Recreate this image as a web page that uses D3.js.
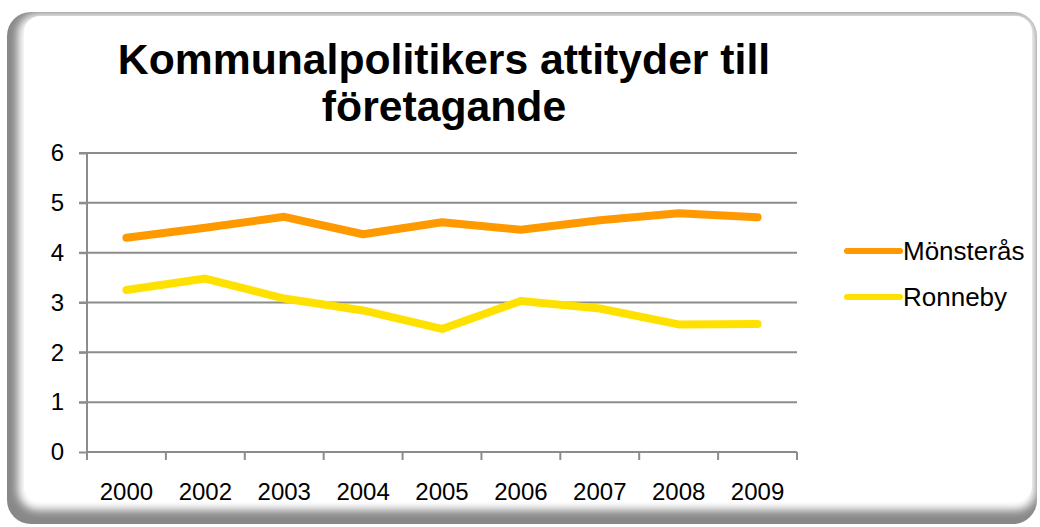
<!DOCTYPE html>
<html>
<head>
  <script src="https://d3js.org/d3.v7.min.js"></script>
  <style>
    body { margin: 0; background: #ffffff; font-family: "Liberation Sans", Arial, sans-serif; }
    .axis text { font-size: 24px; fill: #000; font-family: "Liberation Sans", Arial, sans-serif; }
    .axis path, .axis line { stroke: #8c8c8c; stroke-width: 2px; }
    .grid line { stroke: #8c8c8c; stroke-width: 2px; }
  </style>
</head>
<body>
  <div id="chart"></div>
  <script>
    // Data
    const years = ["2000", "2002", "2003", "2004", "2005", "2006", "2007", "2008", "2009"];
    const monsteras = [4.30, 4.50, 4.72, 4.37, 4.61, 4.46, 4.65, 4.79, 4.71];
    const ronneby = [3.25, 3.48, 3.08, 2.84, 2.47, 3.03, 2.88, 2.56, 2.57];
    const yTicks = [0, 1, 2, 3, 4, 5, 6];
    const seriesNames = ["Mönsterås", "Ronneby"];
    const colors = ["#ff9900", "#ffe100"];

    const W = 1040, H = 527;
    const margin = { top: 153, right: 243, bottom: 75, left: 87 };
    const width = W - margin.left - margin.right;
    const height = H - margin.top - margin.bottom;

    const root = d3.select("#chart").append("svg")
      .attr("width", W)
      .attr("height", H);

    // Frame with soft inner shadow on left and bottom
    const defs = root.append("defs");
    defs.append("filter").attr("id", "soft")
      .attr("x", "-5%").attr("y", "-5%").attr("width", "110%").attr("height", "110%")
      .append("feGaussianBlur").attr("stdDeviation", 4);

    root.append("rect")
      .attr("x", 7).attr("y", 12).attr("width", 1030).attr("height", 512)
      .attr("rx", 24).attr("fill", "#888888");
    root.append("rect")
      .attr("x", 18).attr("y", 14).attr("width", 1018).attr("height", 496)
      .attr("rx", 20).attr("fill", "#ffffff")
      .attr("filter", "url(#soft)");
    root.append("rect")
      .attr("x", 24).attr("y", 16).attr("width", 1008).attr("height", 486)
      .attr("rx", 16).attr("fill", "#ffffff");

    // Title
    const title = root.append("text")
      .attr("text-anchor", "middle")
      .attr("font-weight", "bold")
      .attr("font-size", 42.7)
      .attr("fill", "#000");
    title.append("tspan").attr("x", 444).attr("y", 74).text("Kommunalpolitikers attityder till");
    title.append("tspan").attr("x", 444).attr("y", 121).text("företagande");

    const svg = root.append("g")
      .attr("transform", `translate(${margin.left}, ${margin.top})`);

    const x = d3.scaleBand().domain(years).range([0, width]);
    const y = d3.scaleLinear().domain([0, 6]).range([height, 0]);

    // Gridlines
    svg.append("g")
      .attr("class", "grid")
      .selectAll("line")
      .data(yTicks.filter(d => d > 0))
      .join("line")
      .attr("x1", -8).attr("x2", width)
      .attr("y1", d => y(d)).attr("y2", d => y(d));

    // Y axis
    const yAxis = svg.append("g")
      .attr("class", "y axis")
      .call(d3.axisLeft(y).tickValues(yTicks).tickSize(8).tickPadding(15).tickFormat(d3.format("d")));
    yAxis.select(".domain").attr("d", `M0,0V${height}`);

    // X axis, ticks at category boundaries
    const xAxis = svg.append("g")
      .attr("class", "x axis")
      .attr("transform", `translate(0, ${height})`)
      .call(d3.axisBottom(x).tickSize(0).tickPadding(31));
    xAxis.select(".domain").attr("d", `M0,0H${width}`);
    xAxis.selectAll(".bound")
      .data(d3.range(years.length + 1))
      .join("line")
      .attr("class", "bound")
      .attr("x1", i => i * x.step()).attr("x2", i => i * x.step())
      .attr("y1", 0).attr("y2", 8);

    // Lines
    const line = d3.line()
      .x((d, i) => x(years[i]) + x.bandwidth() / 2)
      .y(d => y(d));

    [monsteras, ronneby].forEach((vals, k) => {
      svg.append("path")
        .datum(vals)
        .attr("fill", "none")
        .attr("stroke", colors[k])
        .attr("stroke-width", 8)
        .attr("stroke-linecap", "round")
        .attr("stroke-linejoin", "round")
        .attr("d", line);
    });

    // Legend
    const legend = root.append("g").attr("transform", "translate(845, 251)");
    seriesNames.forEach((name, k) => {
      const g = legend.append("g").attr("transform", `translate(0, ${k * 46})`);
      g.append("line")
        .attr("x1", 2).attr("x2", 55)
        .attr("stroke", colors[k]).attr("stroke-width", 6)
        .attr("stroke-linecap", "round");
      g.append("text")
        .attr("x", 58).attr("y", 9)
        .attr("font-size", 26)
        .text(name);
    });
  </script>
</body>
</html>
